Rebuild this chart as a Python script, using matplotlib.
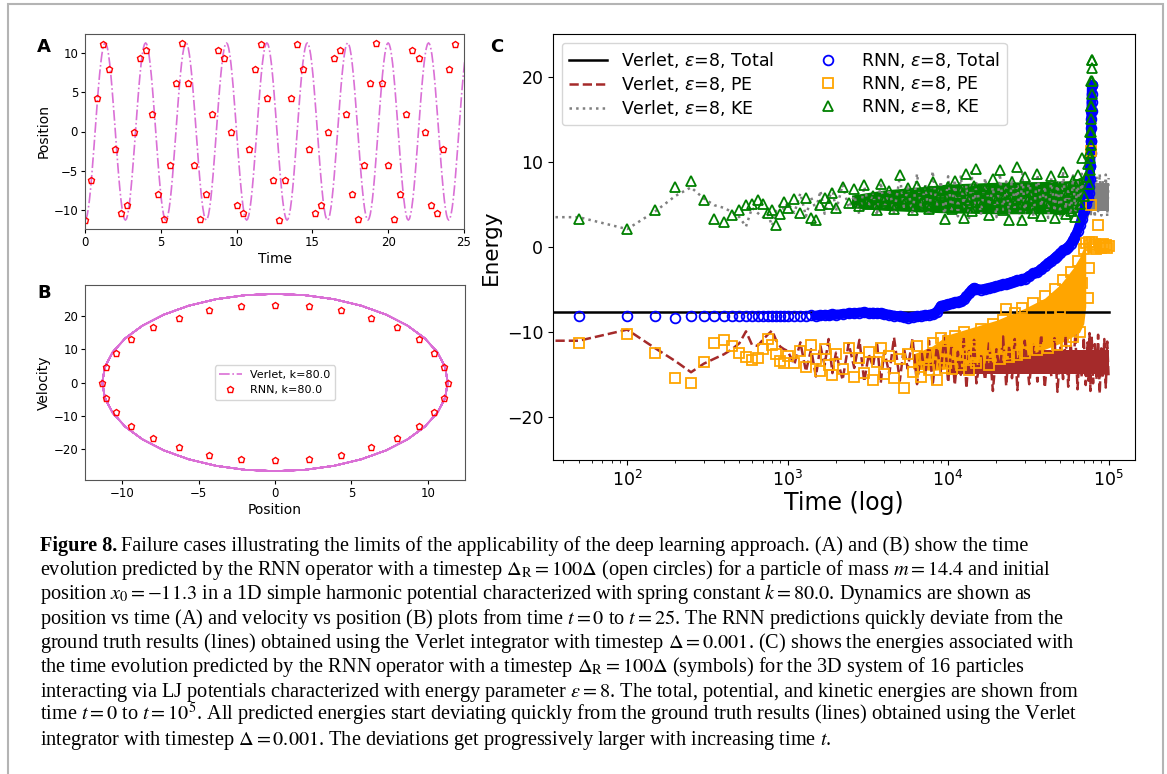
import numpy as np
import matplotlib.pyplot as plt
from matplotlib.patches import Rectangle

# --- Panels A/B: 1D harmonic oscillator, k = 80.0 ---
verlet_period = 2.666
verlet_x_cycle = [-11.3, -11.13, -10.62, -9.79, -8.66, -7.26, -5.65, -3.86, -1.96, 0.0,
                  1.96, 3.86, 5.65, 7.26, 8.66, 9.79, 10.62, 11.13, 11.3, 11.13, 10.62,
                  9.79, 8.66, 7.26, 5.65, 3.86, 1.96, 0.0, -1.96, -3.86, -5.65, -7.26,
                  -8.66, -9.79, -10.62, -11.13]
verlet_v_cycle = [0.0, 4.62, 9.10, 13.3, 17.1, 20.38, 23.04, 25.0, 26.2, 26.6, 26.2, 25.0,
                  23.04, 20.38, 17.1, 13.3, 9.10, 4.62, 0.0, -4.62, -9.10, -13.3, -17.1,
                  -20.38, -23.04, -25.0, -26.2, -26.6, -26.2, -25.0, -23.04, -20.38, -17.1,
                  -13.3, -9.10, -4.62]

rnn_step = 0.4
rnn_pos = [-11.3, -6.2, 4.3, 11.1, 8.0, -2.2, -10.4, -9.4, 0.0, 9.4, 10.4, 2.2, -8.0, -11.1,
           -4.3, 6.2, 11.3, 6.2, -4.3, -11.1, -8.0, 2.2, 10.4, 9.4, 0.0, -9.4, -10.4, -2.2,
           8.0, 11.1, 4.3, -6.2, -11.3, -6.2, 4.3, 11.1, 8.0, -2.2, -10.4, -9.4, 0.0, 9.4,
           10.4, 2.2, -8.0, -11.1, -4.3, 6.2, 11.3, 6.2, -4.3, -11.1, -8.0, 2.2, 10.4, 9.4,
           0.0, -9.4, -10.4, -2.2, 8.0, 11.1]

rnn_ell_x = [-11.3, -11.05, -10.4, -9.4, -8.0, -6.25, -4.3, -2.2, 0.0, 2.2, 4.3, 6.25, 8.0,
             9.4, 10.4, 11.05, 11.3, 11.05, 10.4, 9.4, 8.0, 6.25, 4.3, 2.2, 0.0, -2.2, -4.3,
             -6.25, -8.0, -9.4, -10.4, -11.05]
rnn_ell_v = [0.0, 4.6, 9.0, 13.0, 16.6, 19.5, 21.7, 23.0, 23.4, 23.0, 21.7, 19.5, 16.6, 13.0,
             9.0, 4.6, 0.0, -4.6, -9.0, -13.0, -16.6, -19.5, -21.7, -23.0, -23.4, -23.0,
             -21.7, -19.5, -16.6, -13.0, -9.0, -4.6]

# --- Panel C: LJ system energies, eps = 8 ---
t_early = [50, 100, 150, 200, 250, 300, 350, 400, 450, 500, 550, 600, 650, 700, 750, 800,
           850, 900, 950, 1000]
t_mid = [1100, 1200, 1300, 1400, 1500, 1600, 1700, 1800, 1900, 2000, 2200, 2400, 2600, 2800,
         3000, 3200, 3400, 3600, 3800, 4000, 4300, 4600, 5000, 5300, 5600, 6000, 6400, 6800,
         7200, 7600, 8000, 8500, 9000, 9500, 10000]
t_late = [10500, 11000, 11500, 12000, 12500, 13000, 13500, 14000, 14500, 15000,
          16000, 17000, 18000, 19000, 20000, 21000, 22000, 23000, 24000, 25000, 26000, 27000,
          28000, 29000, 30000,
          32000, 34000, 36000, 38000, 40000, 42000, 44000, 46000, 48000, 50000, 52000, 54000,
          56000, 58000, 60000, 62000, 64000, 66000, 68000, 70000,
          72000, 74000, 75000, 76000, 77000, 77500, 78000, 78500,
          80000, 82000, 84000, 86000, 88000, 90000, 92000, 94000, 96000, 98000, 100000]
time_c = t_early + t_mid + t_late
verlet_t = [0] + time_c

verlet_total_t = [0, 100000]
verlet_total = [-7.6, -7.6]

verlet_pe = ([-11.0, -11.0, -9.7, -11.9, -13.4, -14.7, -13.7, -13.1, -12.6, -12.0, -11.3, -9.9,
              -11.5, -11.6, -10.9, -10.3, -9.8, -11.0, -11.7, -12.0, -12.2]
             + [-13.8, -11.2, -14.6, -12.0, -15.2, -11.6, -13.9, -10.8, -14.8, -12.4,
                -15.6, -11.3, -14.2, -10.9, -15.8, -12.6, -14.0, -11.1, -16.0, -12.2,
                -14.9, -10.6, -15.7, -11.8, -14.3, -10.7, -16.1, -12.1, -15.0, -11.0,
                -16.3, -11.7, -14.6, -10.4, -15.9]
             + [-11.4, -16.2, -12.3, -15.0, -10.6, -16.6, -11.9, -14.8, -10.9, -16.0,
                -12.5, -15.6, -11.1, -16.9, -12.0, -14.6, -10.5, -16.3, -11.6, -15.4,
                -10.8, -16.8, -12.2, -14.9, -11.0, -16.1, -11.5, -15.8, -10.3, -16.5,
                -12.1, -15.2, -10.7, -17.0, -11.8, -15.5, -10.4, -16.4, -11.3, -14.7,
                -10.2, -16.7, -12.4, -15.3, -10.6, -16.2, -11.2, -15.7, -10.1, -16.9,
                -11.7, -14.9, -10.5, -16.0, -11.4, -15.6, -10.3, -17.2, -11.9, -15.1,
                -10.8, -16.5, -11.1, -15.4])

verlet_ke = ([3.5, 3.5, 2.1, 4.2, 6.0, 7.0, 5.7, 4.9, 4.6, 4.1, 3.5, 2.4, 4.6, 4.0, 3.5, 3.9,
              2.5, 4.3, 5.0, 4.4, 5.2]
             + [4.0, 6.3, 3.6, 5.8, 4.4, 6.6, 3.9, 5.5, 6.9, 4.2, 7.3, 4.6, 6.0, 3.8, 7.1, 4.8,
                6.4, 3.7, 7.6, 4.5, 6.8, 4.0, 8.2, 4.7, 7.0, 3.9, 8.6, 4.4, 7.4, 3.6, 8.9, 4.8,
                7.7, 3.5, 8.3]
             + [4.1, 7.9, 3.6, 8.4, 4.7, 7.2, 3.4, 8.8, 4.3, 7.5, 3.8, 8.1, 4.9, 7.0, 3.5, 8.6,
                4.4, 7.7, 3.7, 8.3, 4.6, 7.4, 3.3, 8.7, 4.0, 7.8, 3.6, 8.5, 4.8, 7.1, 3.4, 8.2,
                4.2, 7.6, 3.7, 8.9, 4.5, 7.3, 3.5, 8.4, 4.1, 7.9, 3.8, 8.6, 4.6, 7.5, 3.4, 8.8,
                4.3, 7.2, 3.6, 8.0, 4.9, 8.7, 3.5, 8.3, 4.2, 8.6, 3.7, 7.8, 4.4, 8.5, 3.6, 8.1])

rnn_total = ([-8.05, -8.05, -8.05, -8.3, -8.05, -8.1, -8.05, -8.1, -8.1, -8.1, -8.15, -8.1,
              -8.1, -8.15, -8.1, -8.1, -8.15, -8.1, -8.1, -8.15]
             + [-8.1, -8.05, -8.15, -8.0, -8.05, -8.0, -7.95, -8.0, -7.9, -7.95, -7.85, -7.8,
                -7.75, -7.7, -7.65, -7.75, -7.7, -7.8, -7.75, -7.85, -7.95, -8.05, -8.15, -8.25,
                -8.3, -8.2, -8.15, -8.05, -8.0, -7.95, -7.9, -7.6, -6.9, -6.8, -6.7]
             + [-6.6, -6.5, -6.4, -6.3, -6.1, -5.8, -5.4, -5.0, -4.8, -4.9, -5.0, -4.9, -4.8,
                -4.7, -4.6, -4.5, -4.4, -4.3, -4.2, -4.1, -4.0, -3.9, -3.85, -3.8, -3.7, -3.4,
                -3.1, -2.9, -2.6, -2.2, -1.9, -1.6, -1.3, -1.0, -0.7, -0.4, -0.2, 0.0, 0.4, 0.8,
                1.3, 1.9, 2.6, 3.3, 4.2, 5.0, 5.8, 6.3, 7.0, 9.5, 12.5, 16.0, 19.0])

rnn_pe = ([-11.26, -10.2, -12.4, -15.4, -15.95, -13.5, -11.3, -10.95, -11.65, -12.4, -12.9,
           -13.3, -13.0, -12.0, -10.8, -11.45, -12.6, -13.4, -13.6, -12.8]
          + [-13.6, -12.2, -14.1, -11.5, -13.2, -14.6, -12.0, -13.8, -15.0, -12.6, -14.3, -11.8,
             -15.3, -13.0, -14.8, -12.3, -15.6, -13.5, -11.9, -14.9, -12.8, -15.4, -13.1, -16.5,
             -12.5, -14.7, -11.6, -15.2, -12.9, -14.4, -11.3, -15.6, -10.7, -14.2, -11.0]
          + [-14.3, -10.4, -12.5, -13.9, -10.0, -12.0, -14.4, -10.6, -12.9, -13.6,
             -9.6, -11.6, -13.8, -9.0, -11.2, -13.2, -8.6, -7.3, -12.9, -10.6, -7.7, -12.7,
             -9.6, -7.2, -12.4,
             -9.3, -6.6, -12.1, -8.7, -5.8, -11.8, -8.0, -4.9, -11.5, -7.3, -3.9, -11.0, -6.5,
             -2.9, -10.6, -5.4, -1.6, -10.0, -4.2, -0.2,
             0.5, -6.0, 0.6, -2.5, 0.2, 4.9, 11.3, 0.6,
             0.0, 0.4, -0.2, 2.6, 0.2, -0.1, 0.3, 0.0, 0.2, -0.1, 0.1])

rnn_ke = ([3.3, 2.1, 4.4, 7.1, 7.8, 5.5, 3.3, 2.9, 3.7, 4.4, 4.9, 5.0, 5.5, 5.0, 4.0, 4.3, 2.6,
           3.9, 5.3, 4.6]
          + [5.6, 4.0, 5.7, 3.4, 3.2, 4.9, 5.8, 5.0, 6.3, 4.6, 7.0, 5.2, 6.8, 4.8, 7.3, 5.1, 6.0,
             4.3, 7.4, 5.4, 6.6, 4.5, 8.5, 5.0, 6.9, 4.4, 7.2, 5.2, 6.6, 4.5, 7.6, 5.0, 6.3, 3.3,
             7.0]
          + [4.5, 7.8, 5.2, 6.6, 3.4, 8.6, 5.5, 4.2, 7.2, 9.1, 4.8, 6.8, 3.7, 8.0, 5.4, 9.0, 4.4,
             6.2, 3.2, 7.6, 5.0, 9.4, 4.6, 3.2, 8.2, 5.8, 4.0, 8.6, 3.6, 6.9, 4.8, 8.3, 3.4, 7.1,
             4.5, 8.8, 3.9, 6.5, 4.2, 7.8, 3.5, 8.4, 5.0, 10.5, 6.0, 8.2, 9.8, 7.4, 11.0, 13.5,
             16.5, 19.5, 22.0])

# extra points in the blow-up column near t ~ 7.8e4
spike_t = [76500, 77000, 77300, 77600, 77900, 78100, 78300, 78500, 78700, 78900]
spike_ke = [9.0, 10.5, 12.0, 13.5, 15.0, 16.5, 18.0, 19.5, 21.0, 22.0]
spike_total = [8.0, 9.5, 11.0, 12.5, 14.0, 15.0, 16.0, 17.0, 18.0, 19.0]

# solid cores of the dense marker / noisy-line bands (read as envelopes)
ke_band_t = [2500, 4000, 7000, 10000, 20000, 40000, 60000, 70000, 76000]
ke_band_lo = [4.6, 4.3, 4.1, 4.0, 3.9, 3.9, 3.9, 4.2, 5.0]
ke_band_hi = [6.1, 6.7, 7.1, 7.4, 7.6, 7.7, 7.8, 8.4, 9.0]
pe_band_t = [6000, 8000, 10000, 15000, 20000, 30000, 40000, 50000, 60000, 66000, 70000, 72000]
pe_band_lo = [-14.3, -14.5, -14.3, -13.8, -13.4, -12.8, -12.0, -11.3, -10.5, -10.0, -9.0, -7.0]
pe_band_hi = [-12.6, -11.6, -10.3, -9.3, -8.6, -7.2, -6.0, -4.4, -2.5, -1.2, 0.0, 0.4]
vpe_band_t = [10000, 100000]
vpe_band_lo = [-14.9, -14.9]
vpe_band_hi = [-12.1, -12.1]
vke_band_t = [76000, 100000]
vke_band_lo = [4.2, 4.2]
vke_band_hi = [7.5, 7.5]
total_band_from = 1500

caption_lines = [
    r"evolution predicted by the RNN operator with a timestep $\Delta_\mathrm{R} = 100\Delta$ (open circles) for a particle of mass $m = 14.4$ and initial",
    r"position $x_0 = -11.3$ in a 1D simple harmonic potential characterized with spring constant $k = 80.0$. Dynamics are shown as",
    r"position vs time (A) and velocity vs position (B) plots from time $t = 0$ to $t = 25$. The RNN predictions quickly deviate from the",
    r"ground truth results (lines) obtained using the Verlet integrator with timestep $\Delta = 0.001$. (C) shows the energies associated with",
    r"the time evolution predicted by the RNN operator with a timestep $\Delta_\mathrm{R} = 100\Delta$ (symbols) for the 3D system of 16 particles",
    r"interacting via LJ potentials characterized with energy parameter $\epsilon = 8$. The total, potential, and kinetic energies are shown from",
    r"time $t = 0$ to $t = 10^5$. All predicted energies start deviating quickly from the ground truth results (lines) obtained using the Verlet",
    r"integrator with timestep $\Delta = 0.001$. The deviations get progressively larger with increasing time $t$.",
]
caption_first = "Failure cases illustrating the limits of the applicability of the deep learning approach. (A) and (B) show the time"

W, H = 1167, 774
fig = plt.figure(figsize=(W / 100, H / 100), dpi=100)

def px_axes(left, top, right, bottom):
    return fig.add_axes([left / W, 1 - bottom / H, (right - left) / W, (bottom - top) / H])

orchid = '#da70d6'
n_cyc = 11
verlet_x = list(np.tile(verlet_x_cycle, n_cyc)) + [verlet_x_cycle[0]]
verlet_v = list(np.tile(verlet_v_cycle, n_cyc)) + [verlet_v_cycle[0]]
verlet_time = np.arange(len(verlet_x)) * verlet_period / len(verlet_x_cycle)
rnn_time = np.arange(len(rnn_pos)) * rnn_step

# A
axA = px_axes(85, 34, 464, 229)
axA.plot(verlet_time, verlet_x, color=orchid, ls='-.', lw=1.2)
axA.plot(rnn_time, rnn_pos, 'p', mfc='none', mec='red', ms=5, mew=1)
axA.set_xlim(0, 25)
axA.set_xlabel('Time', fontsize=10, labelpad=2)
axA.set_ylabel('Position', fontsize=10, labelpad=2)

# B
axB = px_axes(85, 285, 465, 480)
axB.plot(verlet_x, verlet_v, color=orchid, ls='-.', lw=1.2, label='Verlet, k=80.0')
axB.plot(rnn_ell_x, rnn_ell_v, 'p', mfc='none', mec='red', ms=5, mew=1, label='RNN, k=80.0')
axB.set_xlabel('Position', fontsize=10, labelpad=2)
axB.set_ylabel('Velocity', fontsize=10, labelpad=2)
axB.legend(loc='center', fontsize=8)

for ax in (axA, axB):
    ax.tick_params(labelsize=8.5, length=3, pad=2)
    for s in ax.spines.values():
        s.set_color('#555555')

# C
axC = px_axes(553, 34, 1135, 460)
eps_lbl = r'$\varepsilon$=8'
axC.plot(verlet_total_t, verlet_total, color='black', lw=1.8, label=f'Verlet, {eps_lbl}, Total')
axC.fill_between(vpe_band_t, vpe_band_lo, vpe_band_hi, color='brown', lw=0)
axC.plot(verlet_t, verlet_pe, color='brown', ls='--', lw=1.8, label=f'Verlet, {eps_lbl}, PE')
axC.fill_between(vke_band_t, vke_band_lo, vke_band_hi, color='gray', lw=0)
axC.plot(verlet_t, verlet_ke, color='gray', ls=':', lw=1.8, label=f'Verlet, {eps_lbl}, KE')

n_from = time_c.index(total_band_from)
axC.plot(time_c[n_from:len(rnn_total)], rnn_total[n_from:], color='blue', lw=7,
         solid_capstyle='round')
axC.plot(time_c[:len(rnn_total)], rnn_total, 'o', mfc='none', mec='blue', ms=7, mew=1.3,
         label=f'RNN, {eps_lbl}, Total')
axC.plot(spike_t, spike_total, 'o', mfc='none', mec='blue', ms=7, mew=1.3)

axC.fill_between(pe_band_t, pe_band_lo, pe_band_hi, color='orange', lw=0)
axC.plot(time_c[:len(rnn_pe)], rnn_pe, 's', mfc='none', mec='orange', ms=7, mew=1.3,
         label=f'RNN, {eps_lbl}, PE')

axC.fill_between(ke_band_t, ke_band_lo, ke_band_hi, color='green', lw=0)
axC.plot(time_c[:len(rnn_ke)], rnn_ke, '^', mfc='none', mec='green', ms=7.5, mew=1.3,
         label=f'RNN, {eps_lbl}, KE')
axC.plot(spike_t, spike_ke, '^', mfc='none', mec='green', ms=7.5, mew=1.3)

axC.set_xscale('log')
axC.set_xlim(34.5, 1.46e5)
axC.set_ylim(-25, 25)
axC.set_yticks([-20, -10, 0, 10, 20])
axC.tick_params(labelsize=12.5)
axC.set_xlabel('Time (log)', fontsize=17, labelpad=1)
axC.set_ylabel('Energy', fontsize=15.5, labelpad=4)
axC.legend(loc='upper left', ncol=2, fontsize=12.5, borderaxespad=0.5, handlelength=2.2,
           columnspacing=2.0, labelspacing=0.25)

# panel letters
for lbl, x, y in [('A', 44, 47), ('B', 44, 293), ('C', 497, 47)]:
    fig.text(x / W, 1 - y / H, lbl, fontsize=13, fontweight='heavy', ha='center', va='center')

# frame
fig.add_artist(Rectangle((8 / W, -0.05), (1163 - 8) / W, 1.05 - 4 / H, transform=fig.transFigure,
                         fill=False, edgecolor='#b4b4b4', lw=1.5))

# caption
cap_kw = dict(fontsize=14.6, family='Liberation Serif', math_fontfamily='stix', va='baseline')
x0 = 40 / W
base0 = 551
line_gap = 24.25
head = fig.text(x0, 1 - base0 / H, 'Figure 8.', fontweight='bold', **cap_kw)
r = fig.canvas.get_renderer()
bb = head.get_window_extent(r)
fig.text(bb.x1 / W + 4 / W, 1 - base0 / H, caption_first, **cap_kw)
for i, line in enumerate(caption_lines):
    fig.text(x0, 1 - (base0 + (i + 1) * line_gap) / H, line, **cap_kw)

fig.savefig('out.png', dpi=100)
